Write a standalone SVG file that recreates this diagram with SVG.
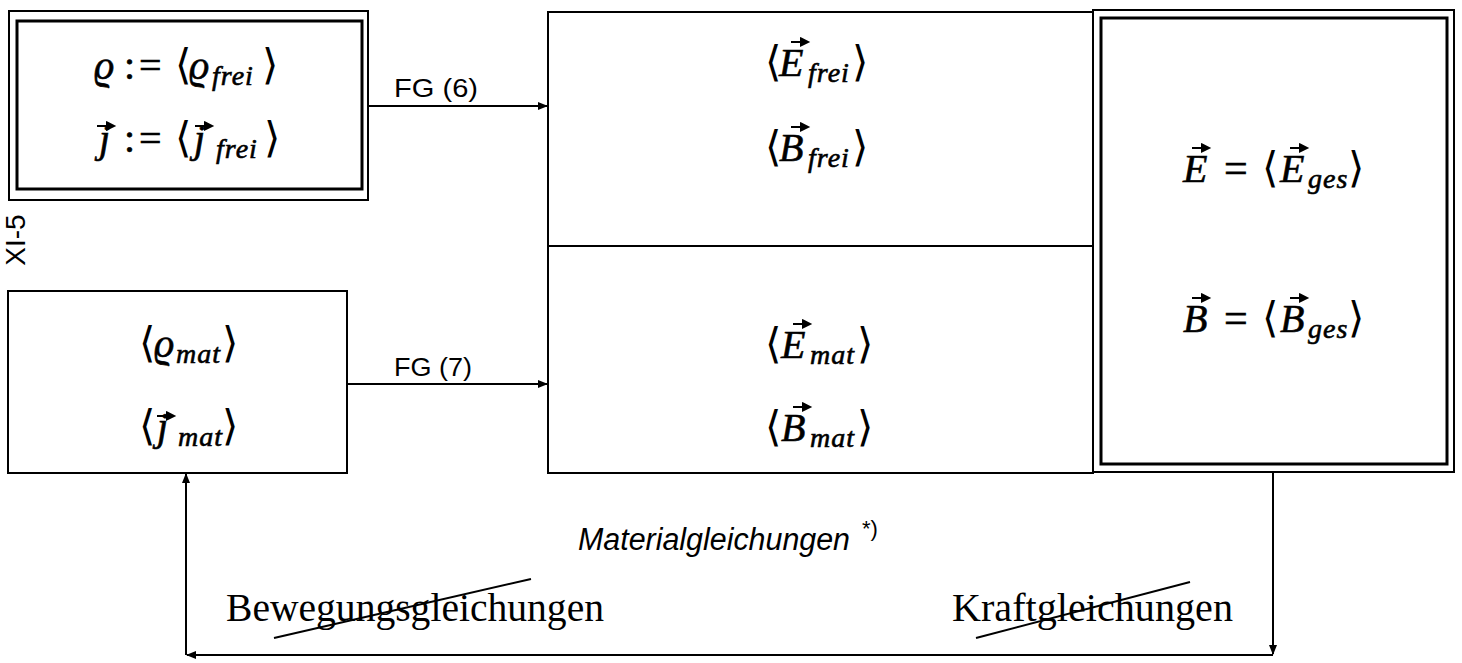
<svg xmlns="http://www.w3.org/2000/svg" width="1462" height="663" viewBox="0 0 1462 663">
<style>
.box{fill:none;stroke:#000;stroke-width:2}
.thick{fill:none;stroke:#000;stroke-width:3}
.conn{fill:none;stroke:#000;stroke-width:2}
.m{font-family:"Liberation Serif","DejaVu Serif",serif;font-style:italic;font-size:40px;fill:#000;stroke:#000;stroke-width:0.6}
.r{font-style:normal}
.br{font-style:normal;font-size:42px;stroke-width:0}
.sub{font-size:28px;letter-spacing:1px}
.hand{font-family:"Liberation Sans","DejaVu Sans",sans-serif;fill:#000}
.rm{font-family:"Liberation Serif","DejaVu Serif",serif;font-size:39px;fill:#000}
</style>
<defs>
<marker id="ah" markerWidth="10" markerHeight="8" refX="9" refY="4" orient="auto" markerUnits="userSpaceOnUse">
<path d="M0,0 L10,4 L0,8 z" fill="#000"/>
</marker>
<path id="vec" d="M0,0 H13 M10,-3.5 L17,0 L10,3.5 z" stroke="#000" stroke-width="2" fill="#000"/>
</defs>
<rect width="1462" height="663" fill="#fff"/>
<text class="hand" font-size="28" transform="translate(25,240) rotate(-90)" text-anchor="middle">XI-5</text>
<g id="node-free-sources">
<rect class="box" x="9" y="11" width="359" height="189"/>
<rect class="thick" x="17" y="21" width="345" height="168"/>
<text class="m" y="79"><tspan x="94">ϱ</tspan><tspan class="r" x="124" letter-spacing="4">:=</tspan><tspan class="br" x="175">⟨</tspan><tspan x="189">ϱ</tspan><tspan class="sub" x="212" dy="6">frei</tspan><tspan class="br" x="262" dy="-6">⟩</tspan></text>
<text class="m" y="152"><tspan x="99">j</tspan><tspan class="r" x="124" letter-spacing="4">:=</tspan><tspan class="br" x="175">⟨</tspan><tspan x="194">j</tspan><tspan class="sub" x="216" dy="6">frei</tspan><tspan class="br" x="264" dy="-6">⟩</tspan></text>
<use href="#vec" x="97" y="126"/>
<use href="#vec" x="195" y="126"/>
</g>
<g id="node-mat-sources">
<rect class="box" x="8" y="291" width="339" height="182"/>
<text class="m" y="357"><tspan class="br" x="139">⟨</tspan><tspan x="154">ϱ</tspan><tspan class="sub" x="176" dy="6">mat</tspan><tspan class="br" x="222" dy="-6">⟩</tspan></text>
<text class="m" y="440"><tspan class="br" x="139">⟨</tspan><tspan x="157">j</tspan><tspan class="sub" x="178" dy="6">mat</tspan><tspan class="br" x="222" dy="-6">⟩</tspan></text>
<use href="#vec" x="157" y="416"/>
</g>
<g id="node-fields">
<rect class="box" x="548" y="12" width="545" height="461"/>
<line class="box" x1="548" y1="246" x2="1093" y2="246"/>
<text class="m" y="76"><tspan class="br" x="765">⟨</tspan><tspan x="779">E</tspan><tspan class="sub" x="808" dy="6">frei</tspan><tspan class="br" x="852" dy="-6">⟩</tspan></text>
<text class="m" y="161"><tspan class="br" x="765">⟨</tspan><tspan x="779">B</tspan><tspan class="sub" x="808" dy="6">frei</tspan><tspan class="br" x="852" dy="-6">⟩</tspan></text>
<text class="m" y="358"><tspan class="br" x="765">⟨</tspan><tspan x="781">E</tspan><tspan class="sub" x="810" dy="6">mat</tspan><tspan class="br" x="857" dy="-6">⟩</tspan></text>
<text class="m" y="441"><tspan class="br" x="765">⟨</tspan><tspan x="781">B</tspan><tspan class="sub" x="810" dy="6">mat</tspan><tspan class="br" x="857" dy="-6">⟩</tspan></text>
<use href="#vec" x="791" y="42"/>
<use href="#vec" x="791" y="127"/>
<use href="#vec" x="793" y="324"/>
<use href="#vec" x="793" y="407"/>
</g>
<g id="node-total">
<rect class="box" x="1093" y="10" width="361" height="462"/>
<rect class="thick" x="1101" y="18" width="346" height="446"/>
<text class="m" y="182"><tspan x="1183">E</tspan><tspan class="r" x="1224" font-size="42">=</tspan><tspan class="br" x="1262">⟨</tspan><tspan x="1280">E</tspan><tspan class="sub" x="1308" dy="6">ges</tspan><tspan class="br" x="1348" dy="-6">⟩</tspan></text>
<text class="m" y="332"><tspan x="1183">B</tspan><tspan class="r" x="1224" font-size="42">=</tspan><tspan class="br" x="1262">⟨</tspan><tspan x="1280">B</tspan><tspan class="sub" x="1308" dy="6">ges</tspan><tspan class="br" x="1348" dy="-6">⟩</tspan></text>
<use href="#vec" x="1192" y="148"/>
<use href="#vec" x="1290" y="148"/>
<use href="#vec" x="1192" y="298"/>
<use href="#vec" x="1290" y="298"/>
</g>
<g id="connectors">
<line class="conn" x1="368" y1="106" x2="547" y2="106" marker-end="url(#ah)"/>
<text class="hand" font-size="25" x="394" y="97" textLength="84" lengthAdjust="spacingAndGlyphs">FG (6)</text>
<line class="conn" x1="347" y1="384" x2="547" y2="384" marker-end="url(#ah)"/>
<text class="hand" font-size="25" x="394" y="376" textLength="78" lengthAdjust="spacingAndGlyphs">FG (7)</text>
<line class="conn" x1="1273" y1="472" x2="1273" y2="654" marker-end="url(#ah)"/>
<line class="conn" x1="1273" y1="655" x2="187" y2="655" marker-end="url(#ah)"/>
<line class="conn" x1="186" y1="655" x2="186" y2="474" marker-end="url(#ah)"/>
<text class="hand" font-style="italic" font-size="31" x="578" y="550" textLength="272" lengthAdjust="spacingAndGlyphs">Materialgleichungen</text>
<text class="hand" font-size="22" x="862" y="536">*)</text>
<text class="rm" x="226" y="621" textLength="378" lengthAdjust="spacingAndGlyphs">Bewegungsgleichungen</text>
<line class="conn" x1="274" y1="638" x2="531" y2="579"/>
<text class="rm" x="952" y="621" textLength="281" lengthAdjust="spacingAndGlyphs">Kraftgleichungen</text>
<line class="conn" x1="976" y1="638" x2="1190" y2="582"/>
</g>
</svg>
